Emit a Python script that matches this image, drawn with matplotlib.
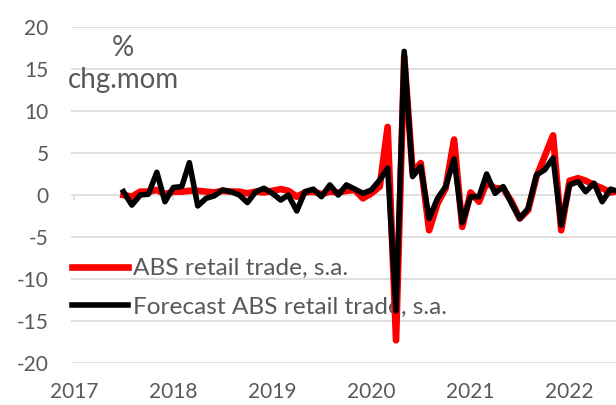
import matplotlib
matplotlib.use("Agg")
import matplotlib.pyplot as plt
import pandas as pd

# monthly % change, Jul 2017 onwards
months = pd.date_range("2017-07-01", periods=61, freq="MS")

abs_retail = [0.0, -0.2, 0.4, 0.4, 0.6, 0.1, 0.4, 0.4, 0.5, 0.5,
              0.4, 0.3, 0.5, 0.4, 0.4, 0.2, 0.4, 0.3, 0.5, 0.7,
              0.5, -0.2, 0.3, 0.4, 0.1, 0.4, 0.3, 0.5, 0.6, -0.4,
              0.2, 1.0, 8.1, -17.3, 16.5, 2.7, 3.8, -4.2, -1.0, 0.8,
              6.6, -3.8, 0.3, -0.8, 1.5, 0.8, 0.8, -0.8, -2.8, -1.8,
              2.2, 4.6, 7.1, -4.2, 1.7, 2.0, 1.7, 1.2, 0.8, 0.3,
              0.5]

forecast = [0.4, -1.2, 0.0, 0.1, 2.7, -0.8, 0.9, 1.0, 3.85, -1.3,
            -0.4, -0.1, 0.6, 0.4, 0.0, -0.9, 0.4, 0.8, 0.2, -0.6,
            0.0, -1.9, 0.4, 0.7, -0.2, 1.2, 0.0, 1.2, 0.7, 0.2,
            0.6, 1.8, 3.2, -13.8, 17.1, 2.2, 3.4, -2.8, -0.4, 1.0,
            4.3, -3.3, -0.2, -0.2, 2.5, 0.2, 1.0, -1.0, -2.8, -1.6,
            2.4, 3.0, 4.4, -3.6, 1.2, 1.6, 0.4, 1.4, -0.8, 0.7,
            0.4]

years = [2017, 2018, 2019, 2020, 2021, 2022]
y_ticks = [-20, -15, -10, -5, 0, 5, 10, 15, 20]

grey = "#595959"
grid = "#d9d9d9"
plt.rcParams["font.family"] = ["Lato", "DejaVu Sans"]

fig = plt.figure(figsize=(6.16, 4.05), dpi=100)
ax = fig.add_axes([0.115, 0.1037, 0.885, 0.8296])

ax.plot(months, abs_retail, color="#ff0000", lw=4.8, zorder=3,
        solid_joinstyle="round", label="ABS retail trade, s.a.")
ax.plot(months, forecast, color="black", lw=4.0, zorder=4,
        solid_joinstyle="round", label="Forecast ABS retail trade, s.a.")

ax.set_ylim(-20, 20)
ax.set_yticks(y_ticks)
ax.set_yticklabels([str(v) for v in y_ticks])
ax.set_xlim(pd.Timestamp("2016-12-19"), pd.Timestamp("2022-06-21"))
year_dates = [pd.Timestamp(f"{y}-01-01") for y in years]
ax.set_xticks(year_dates)
ax.set_xticklabels([str(y) for y in years])

ax.grid(axis="y", color=grid, lw=1.2, zorder=0)
ax.set_axisbelow(True)
ax.tick_params(axis="both", length=0, labelsize=15, labelcolor=grey)
ax.tick_params(axis="y", pad=16)
ax.tick_params(axis="x", pad=14)
for s in ax.spines.values():
    s.set_visible(False)

# small axis ticks below the zero line
ax.vlines(year_dates, -0.6, 0, color=grid, lw=1.2, zorder=1)

leg = ax.legend(loc="upper left", bbox_to_anchor=(0.002, 0.312), frameon=False,
                fontsize=17.6, handlelength=2.3, handletextpad=0.2,
                labelspacing=0.7, borderpad=0, borderaxespad=0)
for t in leg.get_texts():
    t.set_color(grey)
leg.set_zorder(2)

fig.text(123 / 616, 1 - 48 / 405, "%", ha="center", va="center",
         fontsize=20, color=grey)
fig.text(123 / 616, 1 - 80 / 405, "chg.mom", ha="center", va="center",
         fontsize=20, color=grey)

fig.savefig("out.png", dpi=100)
